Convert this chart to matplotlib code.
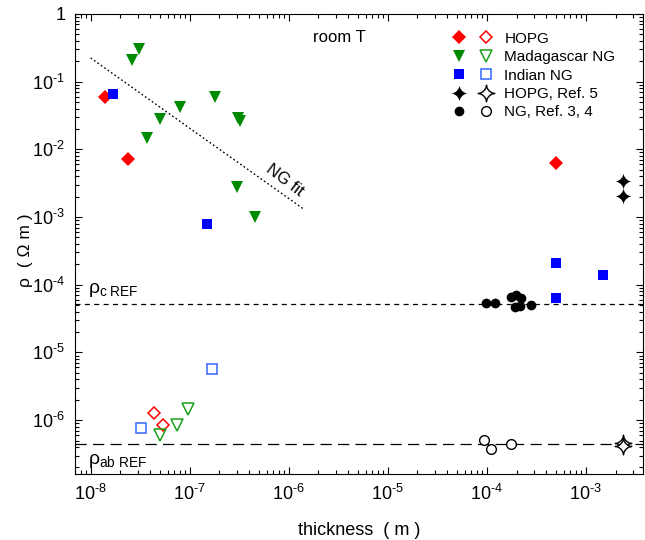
import matplotlib
matplotlib.use("Agg")
import matplotlib.pyplot as plt
import numpy as np
from matplotlib.path import Path
from matplotlib.ticker import FuncFormatter, LogLocator, NullFormatter
from matplotlib.legend_handler import HandlerTuple

plt.rcParams.update({
    "font.family": "Liberation Sans",
    "mathtext.fontset": "custom",
    "mathtext.rm": "Liberation Sans",
    "mathtext.it": "Liberation Sans:italic",
    "mathtext.bf": "Liberation Sans:bold",
})

# ── data (thickness in m, resistivity in Ohm m) ──────────────────────────
hopg_t = [1.39e-8, 2.4e-8, 5.0e-4]
hopg_rho = [0.060, 7.1e-3, 6.2e-3]
hopg_ab_t = [4.37e-8, 5.38e-8]
hopg_ab_rho = [1.28e-6, 8.4e-7]

mad_t = [2.6e-8, 3.1e-8, 3.67e-8, 5.0e-8, 8.0e-8, 1.8e-7, 3.05e-7, 3.2e-7, 3.0e-7, 4.57e-7]
mad_rho = [0.206, 0.307, 0.0146, 0.0278, 0.0418, 0.060, 0.029, 0.026, 2.75e-3, 1.01e-3]
mad_ab_t = [5.07e-8, 7.45e-8, 9.6e-8]
mad_ab_rho = [6.0e-7, 8.6e-7, 1.46e-6]

ind_t = [1.69e-8, 1.5e-7, 5.0e-4, 5.0e-4, 1.51e-3]
ind_rho = [0.065, 7.8e-4, 2.11e-4, 6.4e-5, 1.38e-4]
ind_ab_t = [1.68e-7, 3.19e-8]
ind_ab_rho = [5.6e-6, 7.55e-7]

ref5_t = [2.4e-3, 2.4e-3]
ref5_rho = [3.4e-3, 2.05e-3]
ref5_ab_t = [2.4e-3, 2.4e-3]
ref5_ab_rho = [4.6e-7, 4.15e-7]

ref34_t = [9.86e-5, 1.2e-4, 1.77e-4, 1.99e-4, 2.24e-4, 1.91e-4, 2.15e-4, 2.82e-4]
ref34_rho = [5.3e-5, 5.3e-5, 6.6e-5, 7.0e-5, 6.3e-5, 4.7e-5, 4.8e-5, 5.0e-5]
ref34_ab_t = [9.5e-5, 1.11e-4, 1.77e-4]
ref34_ab_rho = [5.1e-7, 3.8e-7, 4.5e-7]

fit_t = [1.0e-8, 1.43e-6]
fit_rho = [0.224, 1.3e-3]

rho_c_ref = 5.2e-5
rho_ab_ref = 4.4e-7

# 4-pointed sparkle marker (concave sides)
tt = np.linspace(0, 2 * np.pi, 97)
sx = np.sign(np.cos(tt)) * np.abs(np.cos(tt)) ** 3.3
sy = np.sign(np.sin(tt)) * np.abs(np.sin(tt)) ** 3.3
star = Path(np.column_stack([sx, sy]), closed=True)

RED, GREEN, BLUE = "#ff0000", "#008a00", "#0000ff"
GREEN_O, BLUE_O = "#1aa01a", "#3366ff"

fig = plt.figure(figsize=(6.45, 5.4), dpi=100)
ax = fig.add_axes([0.1163, 0.1222, 0.8806, 0.8519])
ax.set_xscale("log")
ax.set_yscale("log")

h_hopg = ax.plot(hopg_t, hopg_rho, "D", color=RED, ms=6.8, mew=0, ls="none", zorder=3)[0]
h_hopg_o = ax.plot(hopg_ab_t, hopg_ab_rho, "D", mfc="none", mec=RED, ms=6.3, mew=1.1, ls="none", zorder=3)[0]
h_mad = ax.plot(mad_t, mad_rho, "v", color=GREEN, ms=9.0, mew=0, ls="none", zorder=3)[0]
h_mad_o = ax.plot(mad_ab_t, mad_ab_rho, "v", mfc="none", mec=GREEN_O, ms=8.5, mew=1.1, ls="none", zorder=3)[0]
h_ind = ax.plot(ind_t, ind_rho, "s", color=BLUE, ms=7.6, mew=0, ls="none", zorder=3)[0]
h_ind_o = ax.plot(ind_ab_t, ind_ab_rho, "s", mfc="none", mec=BLUE_O, ms=7.2, mew=1.1, ls="none", zorder=3)[0]
h_r5 = ax.plot(ref5_t, ref5_rho, marker=star, color="black", ms=12, mew=0, ls="none", zorder=3)[0]
h_r5_o = ax.plot(ref5_ab_t, ref5_ab_rho, marker=star, mfc="white", mec="black", ms=12, mew=1.0, ls="none", zorder=3)[0]
h_r34 = ax.plot(ref34_t, ref34_rho, "o", color="black", ms=7, mew=0, ls="none", zorder=3)[0]
h_r34_o = ax.plot(ref34_ab_t, ref34_ab_rho, "o", mfc="white", mec="black", ms=7, mew=1.0, ls="none", zorder=3)[0]

ax.plot(fit_t, fit_rho, ls=(0, (1.2, 1.8)), color="black", lw=1.0)
ax.axhline(rho_c_ref, color="black", lw=0.9, ls=(0, (4, 3.5)), zorder=1)
ax.axhline(rho_ab_ref, color="black", lw=0.9, ls=(0, (9, 5)), zorder=1)

ax.text(9.1e-7, 3.5e-3, "NG fit", rotation=-37, ha="center", va="center", fontsize=12)
ax.text(1.76e-6, 0.457, "room T", ha="left", va="center", fontsize=12)
ax.text(9.3e-9, 8.3e-5, r"$\mathregular{\rho_{c\ REF}}$", ha="left", va="center", fontsize=14)
ax.text(9.3e-9, 2.45e-7, r"$\mathregular{\rho_{ab\ REF}}$", ha="left", va="center", fontsize=14)

ax.set_xlim(6.95e-9, 3.79e-3)
ax.set_ylim(1.6e-7, 1.0)


def fmt(v, pos):
    e = int(round(np.log10(v)))
    if e == 0:
        return "1"
    return r"$\mathregular{10^{\text{%d}}}$" % e


for axis in (ax.xaxis, ax.yaxis):
    axis.set_major_locator(LogLocator(base=10, numticks=20))
    axis.set_minor_locator(LogLocator(base=10, subs=np.arange(2, 10), numticks=20))
    axis.set_major_formatter(FuncFormatter(fmt))
    axis.set_minor_formatter(NullFormatter())
ax.tick_params(which="both", direction="in", top=True, right=True, labelsize=13, width=0.8)
ax.tick_params(which="major", length=5, pad=7)
ax.tick_params(which="minor", length=3)
for s in ax.spines.values():
    s.set_linewidth(0.8)

ax.set_xlabel("thickness  ( m )", fontsize=13, labelpad=13)
ax.set_ylabel("ρ  ( Ω m )", fontsize=12.5)
ax.yaxis.set_label_coords(-0.0740, 0.487)

ax.legend(
    [(h_hopg, h_hopg_o), (h_mad, h_mad_o), (h_ind, h_ind_o), (h_r5, h_r5_o), (h_r34, h_r34_o)],
    ["HOPG", "Madagascar NG", "Indian NG", "HOPG, Ref. 5", "NG, Ref. 3, 4"],
    handler_map={tuple: HandlerTuple(ndivide=None, pad=0.5)},
    loc="upper left", bbox_to_anchor=(0.646, 0.978), frameon=False, fontsize=11,
    handlelength=3.04, handletextpad=0.55, labelspacing=0.29, borderpad=0, numpoints=1,
)

fig.savefig("out.png", dpi=100)
